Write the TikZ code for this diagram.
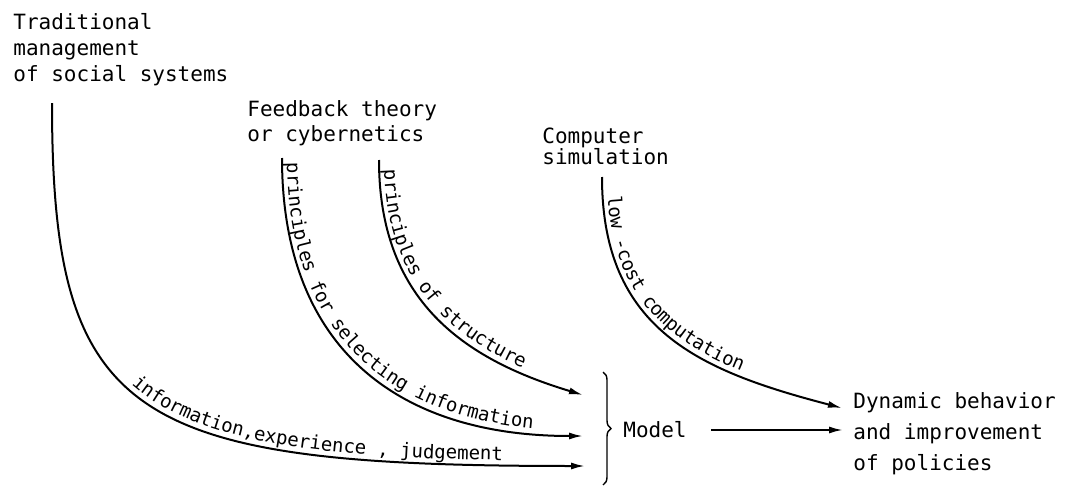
\documentclass[tikz,border=0pt]{standalone}
\usepackage{fontspec}
\setmainfont{DejaVu Sans Mono}
\usetikzlibrary{arrows.meta}
\usetikzlibrary{decorations.text}
\usetikzlibrary{decorations.pathreplacing}

\begin{document}
\begin{tikzpicture}[x=0.5pt,y=-0.5pt,
    every node/.style={inner sep=0pt,align=left,anchor=north west},
    flow/.style={line width=1pt,-{Latex[length=7pt,width=3.5pt]}},
    curvetext/.style 2 args={postaction={decorate,decoration={text along path,
        text={|\fontsize{9.5}{11}\selectfont|#1},text align={left indent=#2},raise=2.5pt}}}]
  \useasboundingbox (0,0) rectangle (1066,487);
  \node[font=\fontsize{10.5}{13}\selectfont] (trad) at (13,13) {Traditional\\management\\of social systems};
  \node[font=\fontsize{10.5}{12.5}\selectfont] (feed) at (247,100) {Feedback theory\\or cybernetics};
  \node[font=\fontsize{10.5}{10.5}\selectfont] (comp) at (542,128) {Computer\\simulation};
  \node[anchor=west,font=\fontsize{10.5}{13}\selectfont] (model) at (623,430) {Model};
  \node[font=\fontsize{10.5}{15.5}\selectfont] (dyn) at (853,392) {Dynamic behavior\\and improvement\\of policies};
  \coordinate (t0) at (52,103);
  \coordinate (f0) at (282,158);
  \coordinate (f1) at (379,160);
  \coordinate (c0) at (602,177);
  \coordinate (m1) at (583,395);
  \coordinate (m2) at (583,436);
  \coordinate (m3) at (585,466);
  \coordinate (d0) at (842,408);
  \draw[flow,curvetext={information,experience , judgement}{152pt}]
    (t0) .. controls (52,420) and (130,466) .. (m3);
  \draw[flow,curvetext={principles for selecting information}{2.5pt}]
    (f0) .. controls (282,350) and (400,436) .. (m2);
  \draw[flow,curvetext={principles of structure}{5pt}]
    (f1) .. controls (379,300) and (463,359) .. (m1);
  \draw[flow,curvetext={low -cost computation}{10pt}]
    (c0) .. controls (602,330) and (700,371) .. (d0);
  \draw[decorate,decoration={brace,amplitude=4pt},line width=0.7pt] (603,372) -- (603,485);
  \draw[flow,shorten <=12pt,shorten >=5pt] (model.east) -- (model.east -| dyn.west);
\end{tikzpicture}
\end{document}
